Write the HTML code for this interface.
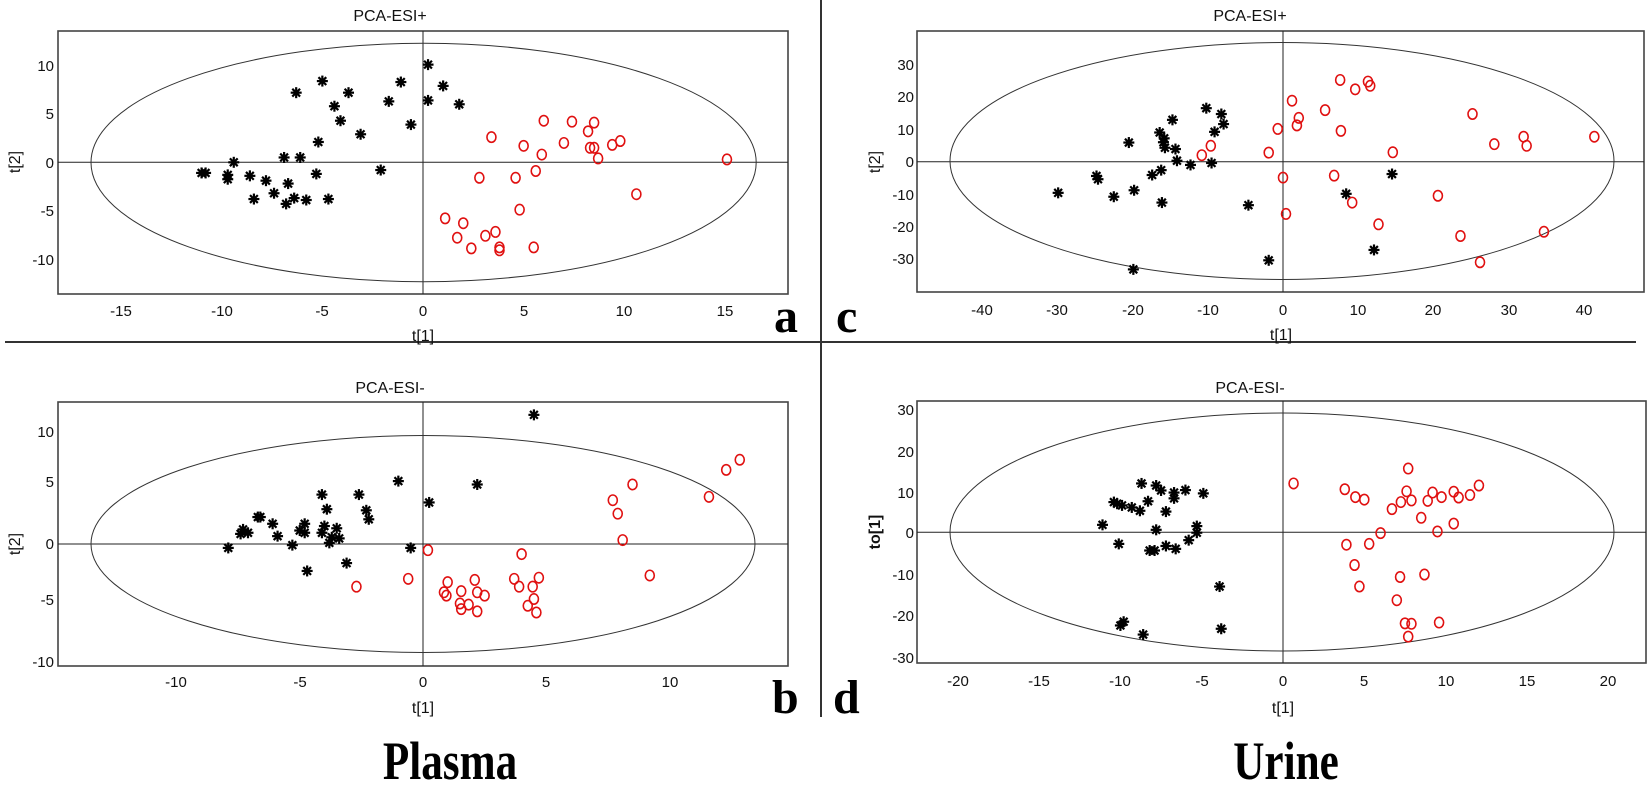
<!DOCTYPE html>
<html><head><meta charset="utf-8"><style>
html,body{margin:0;padding:0;background:#fff;}
svg{display:block;}
.t{font-family:"Liberation Sans",sans-serif;font-size:15px;fill:#111;}
.tt{font-family:"Liberation Sans",sans-serif;font-size:16px;fill:#111;}
.big{font-family:"Liberation Serif",serif;font-weight:bold;font-size:48px;fill:#000;}
.lab{font-family:"Liberation Serif",serif;font-weight:bold;font-size:54px;fill:#000;}
</style></head><body>
<svg id="s" width="1650" height="786" viewBox="0 0 1650 786" xmlns="http://www.w3.org/2000/svg">
<rect width="1650" height="786" fill="#fff"/>
<line x1="5" y1="342" x2="1636" y2="342" stroke="#333" stroke-width="2"/>
<line x1="821" y1="0" x2="821" y2="717" stroke="#333" stroke-width="2"/>
<g fill="none" stroke="#444" stroke-width="1.6">
<rect x="58" y="31" width="730" height="263"/>
<rect x="58" y="402" width="730" height="264"/>
<rect x="917" y="31" width="727" height="261"/>
<rect x="917" y="401" width="729" height="262"/>
</g>
<g stroke="#222" stroke-width="1">
<line x1="423" y1="31" x2="423" y2="294"/><line x1="58" y1="162.3" x2="788" y2="162.3"/>
<line x1="423" y1="402" x2="423" y2="666"/><line x1="58" y1="544" x2="788" y2="544"/>
<line x1="1283" y1="31" x2="1283" y2="292"/><line x1="917" y1="161.7" x2="1644" y2="161.7"/>
<line x1="1283" y1="401" x2="1283" y2="663"/><line x1="917" y1="532.3" x2="1646" y2="532.3"/>
</g>
<g fill="none" stroke="#333" stroke-width="1">
<ellipse cx="423.6" cy="162.5" rx="332.6" ry="119.2"/>
<ellipse cx="423" cy="544" rx="332" ry="108.5"/>
<ellipse cx="1282" cy="161" rx="332" ry="118.5"/>
<ellipse cx="1282" cy="532" rx="332" ry="119"/>
</g>
<g class="tt" text-anchor="middle">
<text x="390" y="21">PCA-ESI+</text>
<text x="1250" y="21">PCA-ESI+</text>
<text x="390" y="393">PCA-ESI-</text>
<text x="1250" y="393">PCA-ESI-</text>
<text x="423" y="341">t[1]</text>
<text x="1281" y="340">t[1]</text>
<text x="423" y="713">t[1]</text>
<text x="1283" y="713">t[1]</text>
</g>
<g class="tt" text-anchor="middle">
<text transform="translate(20,162) rotate(-90)">t[2]</text>
<text transform="translate(20,544) rotate(-90)">t[2]</text>
<text transform="translate(880,162) rotate(-90)">t[2]</text>
<text transform="translate(880,532) rotate(-90)" font-weight="bold">to[1]</text>
</g>
<g class="t" text-anchor="middle">
<text x="121" y="316">-15</text><text x="222" y="316">-10</text><text x="322" y="316">-5</text><text x="423" y="316">0</text><text x="524" y="316">5</text><text x="624" y="316">10</text><text x="725" y="316">15</text>
<text x="176" y="687">-10</text><text x="300" y="687">-5</text><text x="423" y="687">0</text><text x="546" y="687">5</text><text x="670" y="687">10</text>
<text x="982" y="315">-40</text><text x="1057" y="315">-30</text><text x="1133" y="315">-20</text><text x="1208" y="315">-10</text><text x="1283" y="315">0</text><text x="1358" y="315">10</text><text x="1433" y="315">20</text><text x="1509" y="315">30</text><text x="1584" y="315">40</text>
<text x="958" y="686">-20</text><text x="1039" y="686">-15</text><text x="1120" y="686">-10</text><text x="1202" y="686">-5</text><text x="1283" y="686">0</text><text x="1364" y="686">5</text><text x="1446" y="686">10</text><text x="1527" y="686">15</text><text x="1608" y="686">20</text>
</g>
<g class="t" text-anchor="end">
<text x="54" y="71">10</text><text x="54" y="119">5</text><text x="54" y="168">0</text><text x="54" y="216">-5</text><text x="54" y="265">-10</text>
<text x="54" y="437">10</text><text x="54" y="487">5</text><text x="54" y="549">0</text><text x="54" y="605">-5</text><text x="54" y="667">-10</text>
<text x="914" y="70">30</text><text x="914" y="102">20</text><text x="914" y="135">10</text><text x="914" y="167">0</text><text x="914" y="200">-10</text><text x="914" y="232">-20</text><text x="914" y="264">-30</text>
<text x="914" y="415">30</text><text x="914" y="457">20</text><text x="914" y="498">10</text><text x="914" y="538">0</text><text x="914" y="580">-10</text><text x="914" y="621">-20</text><text x="914" y="663">-30</text>
</g>
<text class="big" x="774" y="332">a</text>
<text class="big" x="836" y="332">c</text>
<text class="big" x="772" y="713">b</text>
<text class="big" x="833" y="713">d</text>
<text class="lab" x="450" y="779" text-anchor="middle" transform="translate(450,0) scale(0.8,1) translate(-450,0)">Plasma</text>
<text class="lab" x="1286" y="779" text-anchor="middle" transform="translate(1286,0) scale(0.8,1) translate(-1286,0)">Urine</text>
<g id="pts"></g>
</svg>
<script>
var P={
a:{ox:423,sx:20.13,oy:162.3,sy:9.67,
s:[[0.25,10.1],[-1.1,8.3],[1,7.9],[-5,8.4],[-6.3,7.2],[-3.7,7.2],[-1.7,6.3],[0.25,6.4],[1.8,6],[-4.4,5.8],[-4.1,4.3],[-0.6,3.9],[-3.1,2.9],[-5.2,2.1],[-9.4,0],[-6.9,0.5],[-6.1,0.5],[-10.8,-1.1],[-11,-1.1],[-9.7,-1.3],[-9.7,-1.75],[-8.6,-1.4],[-7.8,-1.9],[-5.3,-1.2],[-2.1,-0.8],[-6.7,-2.2],[-7.4,-3.2],[-8.4,-3.8],[-6.4,-3.7],[-5.8,-3.9],[-6.8,-4.3],[-4.7,-3.8]],
c:[[6,4.3],[7.4,4.2],[8.5,4.1],[8.2,3.2],[3.4,2.6],[5,1.7],[7,2],[8.3,1.5],[8.5,1.5],[9.4,1.8],[9.8,2.2],[5.9,0.8],[8.7,0.4],[15.1,0.3],[2.8,-1.6],[4.6,-1.6],[5.6,-0.9],[10.6,-3.3],[4.8,-4.9],[1.1,-5.8],[2,-6.3],[1.7,-7.8],[3.1,-7.6],[3.6,-7.2],[2.4,-8.9],[3.8,-8.8],[3.8,-9.1],[5.5,-8.8]]},
b:{ox:423,sx:24.65,oy:544,sy:11.23,
s:[[4.5,11.5],[-1,5.6],[2.2,5.3],[0.25,3.7],[-4.1,4.4],[-2.6,4.4],[-3.9,3.1],[-2.3,3],[-2.2,2.2],[-6.7,2.4],[-6.6,2.4],[-6.1,1.8],[-7.3,1.3],[-7.4,0.9],[-7.1,1],[-5.9,0.7],[-4.8,1.8],[-5,1.2],[-4.8,1],[-4,1.6],[-4.1,1],[-3.5,1.4],[-3.7,0.6],[-3.4,0.5],[-3.8,0.1],[-5.3,-0.1],[-7.9,-0.35],[-0.5,-0.35],[-3.1,-1.7],[-4.7,-2.4]],
c:[[12.85,7.5],[12.3,6.6],[8.5,5.3],[11.6,4.2],[7.7,3.9],[7.9,2.7],[8.1,0.35],[9.2,-2.8],[4,-0.9],[0.2,-0.55],[-0.6,-3.1],[-2.7,-3.8],[1,-3.4],[0.85,-4.3],[0.95,-4.6],[1.55,-4.2],[2.1,-3.2],[2.2,-4.3],[2.5,-4.6],[1.5,-5.3],[1.55,-5.8],[1.85,-5.4],[2.2,-6],[3.7,-3.1],[3.9,-3.8],[4.7,-3],[4.45,-3.8],[4.5,-4.9],[4.25,-5.5],[4.6,-6.1]]},
c:{ox:1283,sx:7.52,oy:161.7,sy:3.244,
s:[[-10.2,16.5],[-8.2,14.7],[-7.9,11.6],[-14.7,12.9],[-9.1,9.2],[-16.4,9],[-15.8,7.2],[-15.9,6],[-15.7,4.3],[-14.3,3.9],[-20.5,5.9],[-14.1,0.3],[-12.3,-1],[-9.5,-0.4],[-16.2,-2.6],[-17.4,-4.1],[-24.8,-4.4],[-24.6,-5.4],[-29.9,-9.6],[-22.5,-10.8],[-19.8,-8.8],[-16.1,-12.6],[-4.6,-13.4],[-1.9,-30.4],[-19.9,-33.2],[8.4,-9.9],[14.5,-3.8],[12.1,-27.2]],
c:[[7.6,25.2],[11.3,24.7],[11.6,23.4],[9.6,22.3],[1.2,18.8],[5.6,15.9],[2.1,13.5],[1.85,11.2],[-0.7,10.1],[7.7,9.5],[-9.6,4.9],[-10.8,2],[-1.9,2.8],[14.6,2.9],[25.2,14.7],[32,7.7],[32.4,4.9],[28.1,5.4],[41.4,7.7],[0,-4.9],[6.8,-4.3],[9.2,-12.6],[0.4,-16.1],[12.7,-19.3],[20.6,-10.5],[23.6,-22.9],[34.7,-21.6],[26.2,-31]]},
d:{ox:1283,sx:16.26,oy:532.3,sy:4.14,
s:[[-8.7,11.8],[-7.8,11.3],[-7.5,10.1],[-6.7,9.6],[-6.7,8.2],[-6,10.2],[-4.9,9.4],[-10.4,7.3],[-10.2,6.9],[-9.9,6.5],[-9.3,6],[-8.8,5.2],[-8.3,7.5],[-7.2,5],[-11.1,1.8],[-7.8,0.6],[-5.3,1.5],[-5.3,-0.1],[-5.8,-1.9],[-10.1,-2.8],[-8.2,-4.4],[-7.9,-4.4],[-7.2,-3.3],[-6.6,-4],[-3.9,-13.1],[-10,-22.5],[-9.8,-21.6],[-8.6,-24.7],[-3.8,-23.3]],
c:[[0.65,11.8],[7.7,15.4],[12.05,11.3],[3.8,10.4],[4.45,8.5],[5,7.9],[7.6,9.9],[7.25,7.3],[7.9,7.7],[9.2,9.6],[9.75,8.5],[8.9,7.6],[10.5,9.8],[10.8,8.4],[11.5,9],[6.7,5.6],[8.5,3.5],[10.5,2.1],[9.5,0.2],[6,-0.2],[3.9,-3],[5.3,-2.8],[4.4,-7.9],[8.7,-10.2],[7.2,-10.8],[4.7,-13.1],[7,-16.4],[7.5,-22],[7.9,-22.1],[9.6,-21.8],[7.7,-25.2]]}
};
var h='';
for(var k in P){var p=P[k];
p.s.forEach(function(d){var x=p.ox+p.sx*d[0],y=p.oy-p.sy*d[1],r=5.5;
h+='<g stroke="#000" stroke-width="2.2"><line x1="'+(x-r)+'" y1="'+y+'" x2="'+(x+r)+'" y2="'+y+'"/><line x1="'+x+'" y1="'+(y-r)+'" x2="'+x+'" y2="'+(y+r)+'"/><line x1="'+(x-3.9)+'" y1="'+(y-3.9)+'" x2="'+(x+3.9)+'" y2="'+(y+3.9)+'"/><line x1="'+(x-3.9)+'" y1="'+(y+3.9)+'" x2="'+(x+3.9)+'" y2="'+(y-3.9)+'"/></g>';});
p.c.forEach(function(d){var x=p.ox+p.sx*d[0],y=p.oy-p.sy*d[1];
h+='<ellipse cx="'+x+'" cy="'+y+'" rx="4.5" ry="5.2" fill="none" stroke="#e01010" stroke-width="1.6"/>';});
}
document.getElementById('pts').innerHTML=h;
</script>
</body></html>
